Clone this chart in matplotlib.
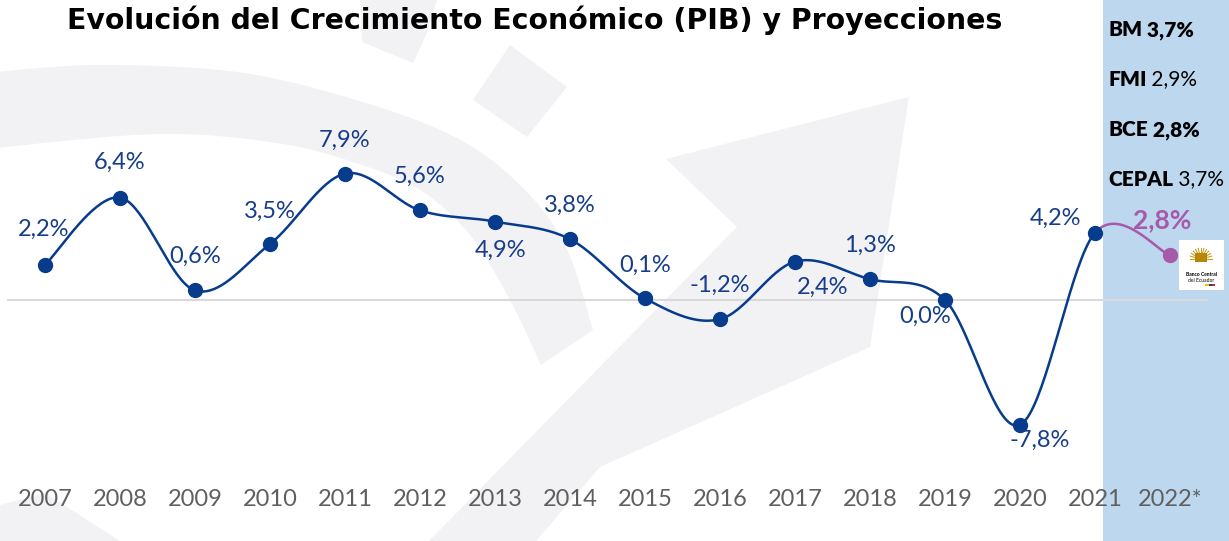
import matplotlib
matplotlib.use("Agg")
import matplotlib.pyplot as plt
import numpy as np
from matplotlib.patches import Polygon, Rectangle

plt.rcParams['font.family'] = ['Lato', 'DejaVu Sans']

# data
years = ["2007", "2008", "2009", "2010", "2011", "2012", "2013", "2014",
         "2015", "2016", "2017", "2018", "2019", "2020", "2021", "2022*"]
pib = [2.2, 6.4, 0.6, 3.5, 7.9, 5.6, 4.9, 3.8, 0.1, -1.2, 2.4, 1.3, 0.0, -7.8, 4.2, 2.8]
pib_labels = ["2,2%", "6,4%", "0,6%", "3,5%", "7,9%", "5,6%", "4,9%", "3,8%",
              "0,1%", "-1,2%", "2,4%", "1,3%", "0,0%", "-7,8%", "4,2%", "2,8%"]
proj_names = ["BM", "FMI", "BCE", "CEPAL"]
proj_values = ["3,7%", "2,9%", "2,8%", "3,7%"]
proj_value_bold = [True, False, True, False]

# label offsets in pixels (dx, dy), dy positive = up
label_off = [(-1, 35), (0, 35), (0, 34), (0, 33), (0, 33), (0, 34), (6, -29), (0, 34),
             (0, 33), (0, 34), (28, -26), (0, 34), (-20, -16), (20, -16), (-40, 14), (-8, 35)]

NAVY = "#073B8C"
LABEL = "#163D8A"
PURPLE = "#A65AAA"
PANEL = "#BDD7EE"
WM = "#F2F2F5"

W, H = 1229, 541


def catmull(px, py, n=40):
    # smooth curve through the points, like the "smoothed line" option
    P = np.column_stack([px, py]).astype(float)
    P = np.vstack([P[0], P, P[-1]])
    segs = []
    t = np.linspace(0, 1, n)[:, None]
    for i in range(1, len(P) - 2):
        p0, p1, p2, p3 = P[i - 1], P[i], P[i + 1], P[i + 2]
        c = 0.5 * (2 * p1 + (-p0 + p2) * t + (2 * p0 - 5 * p1 + 4 * p2 - p3) * t ** 2
                   + (-p0 + 3 * p1 - 3 * p2 + p3) * t ** 3)
        segs.append(c)
    return segs


fig = plt.figure(figsize=(W / 100, H / 100), dpi=100)

# background layer in pixel coordinates
bg = fig.add_axes([0, 0, 1, 1], zorder=0)
bg.set_xlim(0, W)
bg.set_ylim(H, 0)
bg.axis("off")

# faint watermark (circular arrow logo)
outer = np.array([(-5, 72), (99, 65), (237, 72), (356, 100), (455, 137), (520, 185),
                  (565, 245), (593, 330)])
inner = np.array([(541, 365), (510, 300), (470, 235), (420, 190), (356, 163),
                  (277, 143), (158, 134), (-5, 148)])
o = np.vstack(catmull(outer[:, 0], outer[:, 1], 15))
n_ = np.vstack(catmull(inner[:, 0], inner[:, 1], 15))
bg.add_patch(Polygon(np.vstack([o, n_]), closed=True, color=WM, lw=0))
bg.add_patch(Polygon([(429, 541), (536, 541), (600, 467), (870, 347), (909, 97),
                      (666, 159), (737, 227)], closed=True, color=WM, lw=0))
bg.add_patch(Polygon([(473, 100), (510, 45), (567, 87), (527, 137)], closed=True, color=WM, lw=0))
bg.add_patch(Polygon([(360, 0), (437, 0), (427, 33), (413, 63), (362, 42)], closed=True, color=WM, lw=0))
bg.add_patch(Polygon([(0, 505), (45, 493), (120, 541), (0, 541)], closed=True, color=WM, lw=0))

# projection panel
bg.add_patch(Rectangle((1103, 0), W - 1103, H, color=PANEL, lw=0))

# main chart axes
ax = fig.add_axes([0, 0, 1, 1], zorder=1)
ax.patch.set_alpha(0)
x0_px, step_px, zero_px, unit_px = 45, 75.0, 300, 16.0
ax.set_xlim(-x0_px / step_px, (W - x0_px) / step_px)
ax.set_ylim(-(H - zero_px) / unit_px, zero_px / unit_px)
ax.axis("off")

x = np.arange(len(pib))
y = np.array(pib)

ax.axhline(0, xmin=8 / W, xmax=1207 / W, color="#D9D9D9", lw=1.5, zorder=1)

segs = catmull(x, y)
hist = np.vstack(segs[:-1])
ax.plot(hist[:, 0], hist[:, 1], color=NAVY, lw=1.8, zorder=3, solid_capstyle="round")
ax.plot(segs[-1][:, 0], segs[-1][:, 1], color=PURPLE, lw=1.8, zorder=3)
ax.plot(x[:-1], y[:-1], "o", color=NAVY, ms=10, zorder=4)
ax.plot(x[-1:], y[-1:], "o", color=PURPLE, ms=10, zorder=4)

for i, (lab, off) in enumerate(zip(pib_labels, label_off)):
    last = i == len(pib) - 1
    ax.annotate(lab, (x[i], y[i]), xytext=(off[0] * 0.72, off[1] * 0.72),
                textcoords="offset points", ha="center", va="center",
                fontsize=19 if last else 17, color=PURPLE if last else LABEL,
                fontweight="bold" if last else "normal", zorder=5)

for i, yr in enumerate(years):
    ax.text(x[i], 1 - 499 / H, yr, transform=ax.get_xaxis_transform(),
            ha="center", va="center", fontsize=17, color="#5F5F5F")

# title
bg.text(535, 20, "Evolución del Crecimiento Económico (PIB) y Proyecciones",
        ha="center", va="center", fontsize=20.4, fontweight="bold", color="black",
        family=["DejaVu Sans"])

# projections text
for k, (nm, val, vb) in enumerate(zip(proj_names, proj_values, proj_value_bold)):
    yy = 30 + 50 * k
    t = bg.text(1108, yy, nm, ha="left", va="center", fontsize=15,
                fontweight="heavy", color="black", zorder=3)
    bg.annotate(" " + val, xy=(1, 0), xycoords=t, ha="left", va="bottom",
                fontsize=15, fontweight="heavy" if vb else "normal", color="black", zorder=3)

# Banco Central del Ecuador logo
bg.add_patch(Rectangle((1179, 240), 45, 50, color="white", lw=0, zorder=3))
for a in np.linspace(0, np.pi, 13):
    bg.plot([1201, 1201 + 11 * np.cos(a)], [259, 259 - 11 * np.sin(a)],
            color="#C9A227", lw=0.8, zorder=4)
bg.add_patch(Rectangle((1195, 253), 12, 9, color="#B8860B", lw=0, zorder=5))
bg.text(1201, 274, "Banco Central", ha="center", va="center", fontsize=3.6,
        fontweight="bold", color="black", zorder=5)
bg.text(1201, 280, "del Ecuador", ha="center", va="center", fontsize=3.6,
        color="black", zorder=5)
bg.add_patch(Rectangle((1205, 284), 4, 1.5, color="#F2C500", lw=0, zorder=5))
bg.add_patch(Rectangle((1209, 284), 3, 1.5, color="#1F3D99", lw=0, zorder=5))
bg.add_patch(Rectangle((1212, 284), 3, 1.5, color="#D2232A", lw=0, zorder=5))

fig.savefig("out.png", dpi=100)
